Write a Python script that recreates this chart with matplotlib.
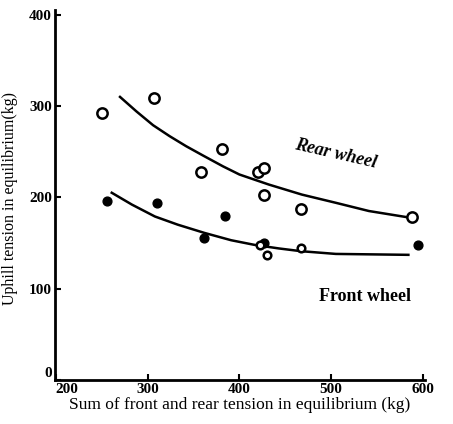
import matplotlib
matplotlib.use("Agg")
import matplotlib.pyplot as plt

# --- du lieu doc tu hinh ---
rear_x = [250, 307, 358, 381, 420, 427, 427, 467, 588]
rear_y = [292, 309, 228, 253, 228, 232, 202, 187, 178]

front_fill_x = [256, 310, 361, 384, 427, 594]
front_fill_y = [196, 194, 155, 179, 150, 148]
front_open_x = [422, 430, 467]
front_open_y = [148, 137, 145]

# duong cong doc tu hinh (cac diem tren duong)
rear_curve_x = [270, 288, 306, 324, 342, 360, 382, 400, 432, 468, 505, 541, 584]
rear_curve_y = [310, 294, 279, 267, 256, 246, 234, 225, 214, 203, 194, 185, 178]
front_curve_x = [261, 283, 308, 333, 362, 391, 416, 443, 467, 505, 584]
front_curve_y = [205, 192, 179, 170, 161, 153, 148, 144, 141, 138, 137]

xticks = [200, 300, 400, 500, 600]
yticks = [0, 100, 200, 300, 400]

plt.rcParams['font.family'] = ['Liberation Serif', 'DejaVu Serif']

fig = plt.figure(figsize=(4.53, 4.24), dpi=100)
ax = fig.add_axes([0.121, 0.104, 0.817, 0.872])

ax.plot(rear_curve_x, rear_curve_y, color='black', lw=1.8)
ax.plot(front_curve_x, front_curve_y, color='black', lw=1.8)

ax.scatter(rear_x, rear_y, s=55, facecolors='white', edgecolors='black', linewidths=1.8, zorder=3)
ax.scatter(front_fill_x, front_fill_y, s=40, color='black', zorder=3)
ax.scatter(front_open_x, front_open_y, s=30, facecolors='white', edgecolors='black', linewidths=1.8, zorder=3)

ax.text(505, 247, 'Rear wheel', rotation=-13, ha='center', va='center',
        fontsize=13, fontweight='bold', fontstyle='italic')
ax.text(537, 91, 'Front wheel', ha='center', va='center', fontsize=13, fontweight='bold')

ax.set_xlim(199, 602)
ax.set_ylim(0, 405)
ax.set_xticks(xticks)
ax.set_yticks(yticks)
ax.tick_params(direction='in', length=4, width=1.5, labelsize=11, pad=2)
for lb in ax.get_xticklabels() + ax.get_yticklabels():
    lb.set_fontweight('bold')
# tranh chong chu "0" va "200" o goc
ax.get_xticklabels()[0].set_ha('left')
ax.get_yticklabels()[0].set_va('bottom')

ax.spines['top'].set_visible(False)
ax.spines['right'].set_visible(False)
ax.spines['left'].set_linewidth(2)
ax.spines['bottom'].set_linewidth(2)

ax.set_xlabel('Sum of front and rear tension in equilibrium (kg)', fontsize=12.5, labelpad=1)
ax.set_ylabel('Uphill tension in equilibrium(kg)', fontsize=11.5)
ax.yaxis.set_label_coords(-0.1, 0.49)

fig.savefig('out.png', dpi=100)
